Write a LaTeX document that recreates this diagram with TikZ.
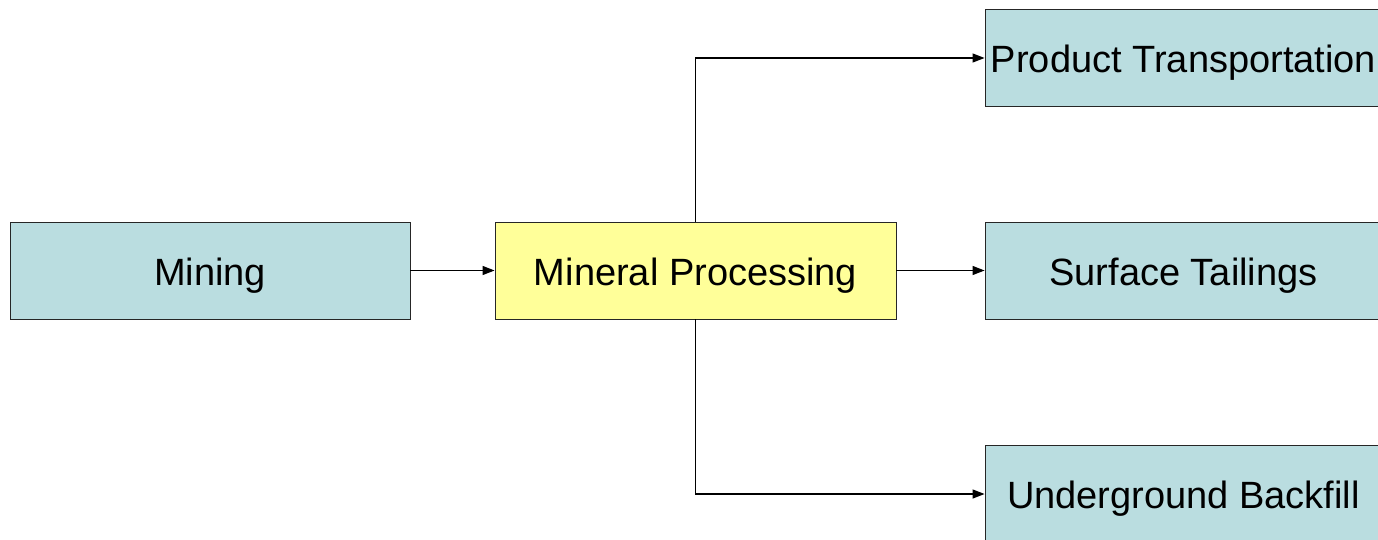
\documentclass[tikz,border=0pt]{standalone}
\usepackage{fontspec}
\setmainfont{Liberation Sans}
\usetikzlibrary{arrows.meta}
\definecolor{teal box}{RGB}{186,221,224}
\definecolor{yellow box}{RGB}{255,255,153}
\begin{document}
\begin{tikzpicture}[x=1pt,y=-1pt,
  box/.style={draw=black!85, line width=0.9pt, fill=teal box, minimum height=97pt, inner sep=0pt,
    text height=30pt, text depth=1pt, font=\fontsize{38}{40}\selectfont},
  conn/.style={line width=1.2pt, -{Triangle[length=12pt,width=9pt]}}]
\useasboundingbox (0,0) rectangle (1378,540);
\fill[white] (0,0) rectangle (1378,540);
\node[box, minimum width=400pt] (mining) at (210,270.5) {Mining};
\node[box, minimum width=401pt, fill=yellow box] (proc) at (695.5,270.5) {Mineral Processing};
\node[box, minimum width=397pt] (prod) at (1183.5,58) {Product Transportation};
\node[box, minimum width=397pt] (tail) at (1183.5,270.5) {Surface Tailings};
\node[box, minimum width=397pt] (back) at (1183.5,494) {Underground Backfill};
\draw[conn] (mining.east) -- (proc.west);
\draw[conn] (proc.east) -- (tail.west);
\draw[conn] (proc.north) |- (prod.west);
\draw[conn] (proc.south) |- (back.west);
\end{tikzpicture}
\end{document}
